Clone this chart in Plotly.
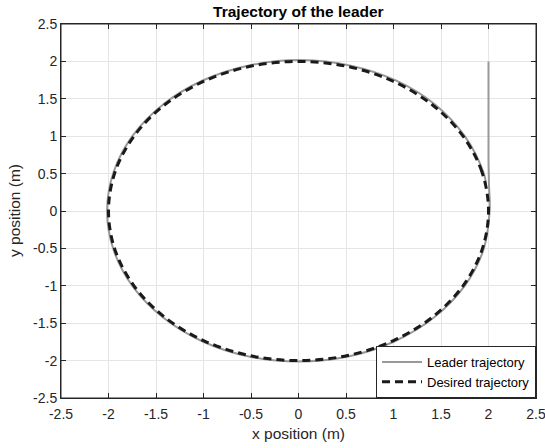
import plotly.graph_objects as go

# Desired trajectory (circle of radius 2), read every 15 degrees
desired_x = [2.0, 1.932, 1.732, 1.414, 1.0, 0.518, 0.0, -0.518, -1.0, -1.414, -1.732, -1.932, -2.0,
             -1.932, -1.732, -1.414, -1.0, -0.518, 0.0, 0.518, 1.0, 1.414, 1.732, 1.932, 2.0]
desired_y = [0.0, 0.518, 1.0, 1.414, 1.732, 1.932, 2.0, 1.932, 1.732, 1.414, 1.0, 0.518, 0.0,
             -0.518, -1.0, -1.414, -1.732, -1.932, -2.0, -1.932, -1.732, -1.414, -1.0, -0.518, 0.0]

# Leader trajectory: starts at (2, 2), goes straight down, then follows the circle
leader_x = [2.0, 2.0, 2.0, 2.005, 2.012, 1.946, 1.745, 1.425, 1.008, 0.522, 0.0, -0.522, -1.008, -1.425,
            -1.745, -1.946, -2.015, -1.946, -1.745, -1.425, -1.008, -0.522, 0.03, 0.55, 1.03, 1.44, 1.75, 1.946, 1.975]
leader_y = [2.0, 1.2, 0.7, 0.35, 0.0, -0.522, -1.008, -1.425, -1.745, -1.946, -2.012, -1.946, -1.745, -1.425,
            -1.008, -0.522, 0.0, 0.522, 1.008, 1.425, 1.745, 1.946, 2.018, 1.943, 1.742, 1.42, 1.0, 0.52, 0.36]

tick_vals = [-2.5, -2, -1.5, -1, -0.5, 0, 0.5, 1, 1.5, 2, 2.5]
tick_text = ["-2.5", "-2", "-1.5", "-1", "-0.5", "0", "0.5", "1", "1.5", "2", "2.5"]

title_text = "Trajectory of the leader"
x_label = "x position (m)"
y_label = "y position (m)"

FONT = "Liberation Sans, Arial, Helvetica, sans-serif"

fig = go.Figure()
fig.add_trace(go.Scatter(x=leader_x, y=leader_y, mode="lines", name="Leader trajectory",
                         line=dict(color="#999999", width=2, shape="spline", smoothing=1)))
fig.add_trace(go.Scatter(x=desired_x, y=desired_y, mode="lines", name="Desired trajectory",
                         line=dict(color="#1a1a1a", width=3, dash="8px,5px", shape="spline", smoothing=1)))

axis_common = dict(
    tickvals=tick_vals, ticktext=tick_text,
    showgrid=True, gridcolor="#e5e5e5", gridwidth=1,
    zeroline=False, showline=True, linecolor="#262626", linewidth=1,
    mirror="ticks", ticks="inside", ticklen=5, tickcolor="#262626",
    tickfont=dict(family=FONT, size=14, color="#262626"),
    automargin=False, ticklabeloverflow="allow",
)

fig.update_layout(
    width=545, height=448,
    margin=dict(l=61, r=9, t=24, b=50),
    paper_bgcolor="white", plot_bgcolor="white",
    title=dict(text="<b>" + title_text + "</b>", x=0.5475, xanchor="center",
               y=1 - 11.5 / 448, yanchor="middle", yref="container",
               font=dict(family=FONT, size=15.5, color="black")),
    xaxis=dict(range=[-2.5, 2.5], ticklabelstandoff=3, **axis_common),
    yaxis=dict(range=[-2.5, 2.5], **axis_common),
    legend=dict(x=1, xanchor="right", y=0, yanchor="bottom",
                bgcolor="white", bordercolor="#262626", borderwidth=1,
                font=dict(family=FONT, size=13, color="black"),
                tracegroupgap=0, itemwidth=40),
    showlegend=True,
    annotations=[
        dict(text=x_label, xref="paper", yref="paper", x=0.5, y=0, yshift=-35,
             xanchor="center", yanchor="middle", showarrow=False,
             font=dict(family=FONT, size=15.5, color="#262626")),
        dict(text=y_label, xref="paper", yref="paper", x=0, y=0.5, xshift=-47,
             xanchor="center", yanchor="middle", showarrow=False, textangle=-90,
             font=dict(family=FONT, size=15.5, color="#262626")),
    ],
    shapes=[dict(type="rect", xref="paper", yref="paper", x0=0, y0=0, x1=1, y1=1,
                 line=dict(color="#262626", width=1), layer="above")],
)

fig.write_html("out.html", config={"displayModeBar": False},
               post_script="document.body.style.margin='0';document.body.style.overflow='hidden';")
